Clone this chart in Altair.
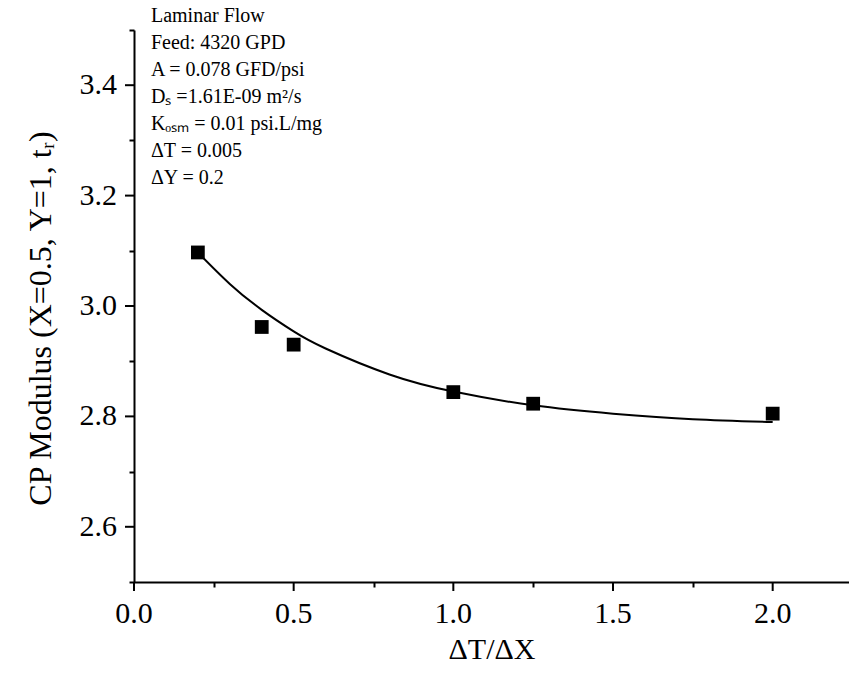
import altair as alt
import pandas as pd

# Measured CP modulus at X=0.5, Y=1 for each time/space step ratio
dt_dx = [0.2, 0.4, 0.5, 1.0, 1.25, 2.0]
cp_modulus = [3.097, 2.962, 2.930, 2.844, 2.823, 2.805]

# Smooth trend curve through the measurements
fit_x = [0.2, 0.3, 0.4, 0.5, 0.6, 0.8, 1.0, 1.25, 1.5, 1.75, 2.0]
fit_y = [3.097, 3.040, 2.993, 2.954, 2.923, 2.876, 2.845, 2.820, 2.805, 2.795, 2.790]

# Axis tick positions
x_major = [0.0, 0.5, 1.0, 1.5, 2.0]
x_minor = [0.25, 0.75, 1.25, 1.75]
y_major = [2.6, 2.8, 3.0, 3.2, 3.4]
y_minor = [2.5, 2.7, 2.9, 3.1, 3.3, 3.5]

# Simulation parameters listed in the upper-left corner
notes = [
    "Laminar Flow",
    "Feed: 4320 GPD",
    "A = 0.078 GFD/psi",
    "Dₛ =1.61E-09 m²/s",
    "Kₒₛₘ = 0.01 psi.L/mg",
    "ΔT = 0.005",
    "ΔY = 0.2",
]
note_y = [3.525, 3.476, 3.428, 3.379, 3.330, 3.281, 3.232]
note_x = 0.053

FONT = "Liberation Serif"
PLOT_W, PLOT_H = 715, 552

points_df = pd.DataFrame({"x": dt_dx, "y": cp_modulus})
fit_df = pd.DataFrame({"x": fit_x, "y": fit_y})
notes_df = pd.DataFrame({"x": [note_x] * len(notes), "y": note_y, "label": notes})
x_tick_df = pd.DataFrame({"tx": x_major, "txt": [f"{v:.1f}" for v in x_major]})
y_tick_df = pd.DataFrame({"ty": y_major, "txt": [f"{v:.1f}" for v in y_major]})

xs = alt.Scale(domain=[0, 2.239], nice=False, zero=False)
ys = alt.Scale(domain=[2.5, 3.5], nice=False, zero=False)

# Axis lines, minor ticks and titles
x_axis = alt.Axis(
    orient="bottom",
    values=x_minor,
    labels=False,
    ticks=True,
    tickSize=5,
    tickWidth=2,
    domainWidth=2,
    title="ΔT/ΔX",
    titleFontSize=30,
    titleY=76,
    titleBaseline="alphabetic",
)
y_axis = alt.Axis(
    orient="left",
    values=y_minor,
    labels=False,
    ticks=True,
    tickSize=5,
    tickWidth=2,
    domainWidth=2,
    titleFontSize=32,
    titleX=-84,
    titleY=288,
    titleBaseline="alphabetic",
    title="CP Modulus (X=0.5, Y=1, tᵣ)",
)

curve = alt.Chart(fit_df).mark_line(
    color="black", strokeWidth=2, interpolate="natural"
).encode(
    x=alt.X("x:Q", scale=xs, axis=x_axis),
    y=alt.Y("y:Q", scale=ys, axis=y_axis),
)

points = alt.Chart(points_df).mark_point(
    shape="square", filled=True, size=190, color="black", opacity=1
).encode(
    x=alt.X("x:Q", scale=xs, axis=None),
    y=alt.Y("y:Q", scale=ys, axis=None),
)

labels = alt.Chart(notes_df).mark_text(
    align="left", baseline="middle", font=FONT, fontSize=20, color="black"
).encode(
    x=alt.X("x:Q", scale=xs, axis=None),
    y=alt.Y("y:Q", scale=ys, axis=None),
    text="label:N",
)

# Major tick marks and their labels, placed through the shared scales
x_ticks = alt.Chart(x_tick_df).mark_rule(color="black", strokeWidth=2).encode(
    x=alt.X("tx:Q", scale=xs, axis=None),
    y=alt.value(PLOT_H),
    y2=alt.value(PLOT_H + 9),
)
y_ticks = alt.Chart(y_tick_df).mark_rule(color="black", strokeWidth=2).encode(
    y=alt.Y("ty:Q", scale=ys, axis=None),
    x=alt.value(0),
    x2=alt.value(-9),
)
x_tick_labels = alt.Chart(x_tick_df).mark_text(
    align="center", baseline="middle", font=FONT, fontSize=30, color="black"
).encode(
    x=alt.X("tx:Q", scale=xs, axis=None),
    y=alt.value(PLOT_H + 32),
    text="txt:N",
)
y_tick_labels = alt.Chart(y_tick_df).mark_text(
    align="right", baseline="middle", font=FONT, fontSize=30, color="black"
).encode(
    y=alt.Y("ty:Q", scale=ys, axis=None),
    x=alt.value(-17),
    text="txt:N",
)

chart = (
    alt.layer(
        curve, points, labels, x_ticks, y_ticks, x_tick_labels, y_tick_labels
    )
    .resolve_axis(x="independent", y="independent")
    .properties(
        width=PLOT_W,
        height=PLOT_H,
        padding={"left": 134, "top": 30, "right": 0, "bottom": 95},
        autosize=alt.AutoSizeParams(type="none"),
        background="white",
    )
    .configure_view(stroke=None)
    .configure_axis(
        grid=False,
        domainColor="black",
        tickColor="black",
        titleColor="black",
        titleFont=FONT,
        titleFontWeight="normal",
    )
)

chart.save("out.html", embed_options={"renderer": "svg", "actions": False})
